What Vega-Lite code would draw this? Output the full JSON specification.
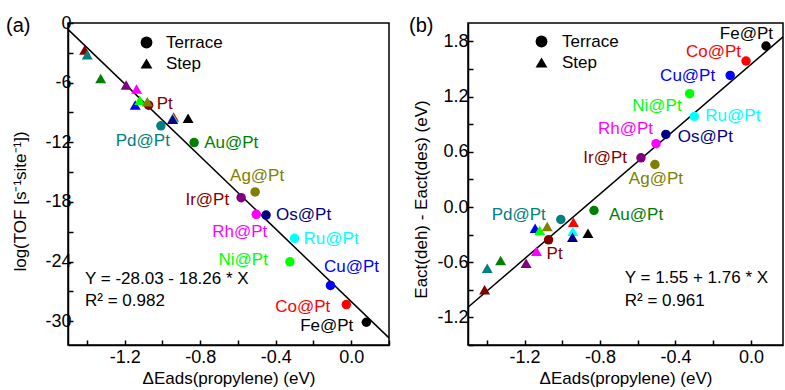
{
  "$schema": "https://vega.github.io/schema/vega-lite/v6.json",
  "padding": {"left": 5, "top": 13, "right": 0, "bottom": 0},
  "datasets": {
    "pts": [
      {"metal": "Pt", "label": "Pt", "site": "Terrace", "dE": -1.073, "logTOF": -8.27, "dEact": -0.357},
      {"metal": "Pd", "label": "Pd@Pt", "site": "Terrace", "dE": -1.008, "logTOF": -10.35, "dEact": -0.136},
      {"metal": "Au", "label": "Au@Pt", "site": "Terrace", "dE": -0.832, "logTOF": -12.03, "dEact": -0.038},
      {"metal": "Ag", "label": "Ag@Pt", "site": "Terrace", "dE": -0.509, "logTOF": -17.0, "dEact": 0.462},
      {"metal": "Ir", "label": "Ir@Pt", "site": "Terrace", "dE": -0.583, "logTOF": -17.58, "dEact": 0.535},
      {"metal": "Rh", "label": "Rh@Pt", "site": "Terrace", "dE": -0.503, "logTOF": -19.25, "dEact": 0.688},
      {"metal": "Os", "label": "Os@Pt", "site": "Terrace", "dE": -0.451, "logTOF": -19.33, "dEact": 0.789},
      {"metal": "Ru", "label": "Ru@Pt", "site": "Terrace", "dE": -0.3, "logTOF": -21.67, "dEact": 0.985},
      {"metal": "Ni", "label": "Ni@Pt", "site": "Terrace", "dE": -0.325, "logTOF": -24.03, "dEact": 1.232},
      {"metal": "Cu", "label": "Cu@Pt", "site": "Terrace", "dE": -0.11, "logTOF": -26.41, "dEact": 1.43},
      {"metal": "Co", "label": "Co@Pt", "site": "Terrace", "dE": -0.026, "logTOF": -28.33, "dEact": 1.587},
      {"metal": "Fe", "label": "Fe@Pt", "site": "Terrace", "dE": 0.08, "logTOF": -30.11, "dEact": 1.75},
      {"metal": "Pt", "label": "Pt", "site": "Step", "dE": -1.412, "logTOF": -2.72, "dEact": -0.9},
      {"metal": "Pd", "label": "Pd@Pt", "site": "Step", "dE": -1.398, "logTOF": -3.2, "dEact": -0.666},
      {"metal": "Au", "label": "Au@Pt", "site": "Step", "dE": -1.327, "logTOF": -5.58, "dEact": -0.582},
      {"metal": "Ir", "label": "Ir@Pt", "site": "Step", "dE": -1.192, "logTOF": -6.25, "dEact": -0.611},
      {"metal": "Rh", "label": "Rh@Pt", "site": "Step", "dE": -1.137, "logTOF": -6.65, "dEact": -0.481},
      {"metal": "Cu", "label": "Cu@Pt", "site": "Step", "dE": -1.144, "logTOF": -8.24, "dEact": -0.231},
      {"metal": "Ni", "label": "Ni@Pt", "site": "Step", "dE": -1.12, "logTOF": -7.77, "dEact": -0.256},
      {"metal": "Ag", "label": "Ag@Pt", "site": "Step", "dE": -1.08, "logTOF": -7.93, "dEact": -0.212},
      {"metal": "Co", "label": "Co@Pt", "site": "Step", "dE": -0.941, "logTOF": -9.45, "dEact": -0.165},
      {"metal": "Ru", "label": "Ru@Pt", "site": "Step", "dE": -0.944, "logTOF": -9.58, "dEact": -0.263},
      {"metal": "Os", "label": "Os@Pt", "site": "Step", "dE": -0.946, "logTOF": -9.68, "dEact": -0.329},
      {"metal": "Fe", "label": "Fe@Pt", "site": "Step", "dE": -0.864, "logTOF": -9.58, "dEact": -0.285}
    ],
    "fitA": [{"dE": -1.5, "logTOF": -0.64}, {"dE": 0.2, "logTOF": -31.68}],
    "fitB": [{"dE": -1.5, "dEact": -1.09}, {"dE": 0.17, "dEact": 1.849}],
    "zero": [{"dEact": 0}],
    "eqA": [{"dE": -1.41, "logTOF": -25.75, "text": "Y = -28.03 - 18.26 * X"}, {"dE": -1.41, "logTOF": -28.0, "text": "R² = 0.982"}],
    "eqB": [{"dE": -0.669, "dEact": -0.775, "text": "Y = 1.55 + 1.76 * X"}, {"dE": -0.669, "dEact": -1.017, "text": "R² = 0.961"}]
  },
  "spacing": 79,
  "bounds": "flush",
  "resolve": {"scale": {"shape": "independent"}, "legend": {"shape": "independent"}},
  "hconcat": [
    {
      "width": 321,
      "height": 322,
      "title": {"text": "(a)", "anchor": "start", "frame": "group", "dx": -62, "dy": 22, "offset": 0},
      "data": {"name": "pts"},
      "encoding": {
        "x": {"field": "dE", "type": "quantitative", "scale": {"domain": [-1.5, 0.2], "nice": false, "zero": false},
          "axis": {"title": "ΔEads(propylene) (eV)", "values": [-1.4, -1.2, -1.0, -0.8, -0.6, -0.4, -0.2, 0, 0.2],
            "labelExpr": "round(datum.value*10)%4==0 ? replace(format(datum.value,'.1f'),'−','-') : ''", "labelPadding": 8, "titleY": 25}},
        "y": {"field": "logTOF", "type": "quantitative", "scale": {"domain": [-32.4, 0], "nice": false, "zero": false},
          "axis": {"title": "log(TOF [s⁻¹site⁻¹])", "values": [0, -3, -6, -9, -12, -15, -18, -21, -24, -27, -30],
            "labelExpr": "datum.value%6==0 ? replace(format(datum.value,'d'),'−','-') : ''", "labelPadding": 2, "titleX": -39, "titleY": 178}}
      },
      "layer": [
        {"data": {"name": "fitA"}, "mark": {"type": "line", "color": "black", "strokeWidth": 1.5}, "encoding": {}},
        {"transform": [{"filter": "datum.site=='Terrace'"}], "mark": {"type": "point", "filled": true, "size": 90, "opacity": 1, "strokeWidth": 0},
          "encoding": {
            "color": {"field": "metal", "type": "nominal", "legend": null, "scale": {"domain": ["Pt", "Pd", "Au", "Ag", "Ir", "Rh", "Os", "Ru", "Ni", "Cu", "Co", "Fe"], "range": ["#800000", "#008080", "#008000", "#808000", "#800080", "#FF00FF", "#000080", "#00FFFF", "#00FF00", "#0000FF", "#FF0000", "#000000"]}},
            "shape": {"field": "site", "type": "nominal", "scale": {"domain": ["Terrace", "Step"], "range": ["circle", "triangle-up"]},
              "legend": {"title": null, "orient": "none", "legendX": 70, "legendY": 11, "padding": 0, "labelFontSize": 17, "labelFont": "Liberation Sans", "labelColor": "black", "symbolSize": 140, "labelOffset": 11, "rowPadding": 3, "symbolFillColor": "black", "symbolStrokeColor": "black", "symbolStrokeWidth": 0, "symbolOpacity": 1,
                "encode": {"symbols": {"update": {"fill": {"value": "black"}, "stroke": {"value": "black"}, "opacity": {"value": 1}, "size": {"value": 140}}}}}}
          }},
        {"transform": [{"filter": "datum.site=='Step'"}], "mark": {"type": "point", "filled": true, "size": 120, "opacity": 1, "strokeWidth": 0},
          "encoding": {"color": {"field": "metal", "type": "nominal", "legend": null}, "shape": {"field": "site", "type": "nominal"}}},
        {"transform": [{"filter": "datum.site=='Terrace' && datum.metal=='Pt'"}], "mark": {"type": "text", "align": "left", "dx": 8, "dy": -1}, "encoding": {"text": {"field": "label"}, "color": {"field": "metal", "type": "nominal", "legend": null}}},
        {"transform": [{"filter": "datum.site=='Terrace' && datum.metal=='Pd'"}], "mark": {"type": "text", "align": "right", "dx": 9, "dy": 15}, "encoding": {"text": {"field": "label"}, "color": {"field": "metal", "type": "nominal", "legend": null}}},
        {"transform": [{"filter": "datum.site=='Terrace' && datum.metal=='Au'"}], "mark": {"type": "text", "align": "left", "dx": 10, "dy": 0}, "encoding": {"text": {"field": "label"}, "color": {"field": "metal", "type": "nominal", "legend": null}}},
        {"transform": [{"filter": "datum.site=='Terrace' && datum.metal=='Ag'"}], "mark": {"type": "text", "align": "center", "dx": 2, "dy": -16}, "encoding": {"text": {"field": "label"}, "color": {"field": "metal", "type": "nominal", "legend": null}}},
        {"transform": [{"filter": "datum.site=='Terrace' && datum.metal=='Ir'"}], "mark": {"type": "text", "align": "right", "dx": -12, "dy": 2, "color": "#800000"}, "encoding": {"text": {"field": "label"}}},
        {"transform": [{"filter": "datum.site=='Terrace' && datum.metal=='Rh'"}], "mark": {"type": "text", "align": "right", "dx": 11, "dy": 18}, "encoding": {"text": {"field": "label"}, "color": {"field": "metal", "type": "nominal", "legend": null}}},
        {"transform": [{"filter": "datum.site=='Terrace' && datum.metal=='Os'"}], "mark": {"type": "text", "align": "left", "dx": 10, "dy": 0}, "encoding": {"text": {"field": "label"}, "color": {"field": "metal", "type": "nominal", "legend": null}}},
        {"transform": [{"filter": "datum.site=='Terrace' && datum.metal=='Ru'"}], "mark": {"type": "text", "align": "left", "dx": 9, "dy": 1}, "encoding": {"text": {"field": "label"}, "color": {"field": "metal", "type": "nominal", "legend": null}}},
        {"transform": [{"filter": "datum.site=='Terrace' && datum.metal=='Ni'"}], "mark": {"type": "text", "align": "right", "dx": -22, "dy": -2}, "encoding": {"text": {"field": "label"}, "color": {"field": "metal", "type": "nominal", "legend": null}}},
        {"transform": [{"filter": "datum.site=='Terrace' && datum.metal=='Cu'"}], "mark": {"type": "text", "align": "center", "dx": 21, "dy": -18}, "encoding": {"text": {"field": "label"}, "color": {"field": "metal", "type": "nominal", "legend": null}}},
        {"transform": [{"filter": "datum.site=='Terrace' && datum.metal=='Co'"}], "mark": {"type": "text", "align": "right", "dx": -16, "dy": 2}, "encoding": {"text": {"field": "label"}, "color": {"field": "metal", "type": "nominal", "legend": null}}},
        {"transform": [{"filter": "datum.site=='Terrace' && datum.metal=='Fe'"}], "mark": {"type": "text", "align": "right", "dx": -13, "dy": 4}, "encoding": {"text": {"field": "label"}, "color": {"field": "metal", "type": "nominal", "legend": null}}},
        {"data": {"name": "eqA"}, "mark": {"type": "text", "align": "left", "color": "black"}, "encoding": {"text": {"field": "text"}}}
      ]
    },
    {
      "width": 315,
      "height": 322,
      "title": {"text": "(b)", "anchor": "start", "frame": "group", "dx": -59, "dy": 13, "offset": 0},
      "data": {"name": "pts"},
      "encoding": {
        "x": {"field": "dE", "type": "quantitative", "scale": {"domain": [-1.5, 0.17], "nice": false, "zero": false},
          "axis": {"title": "ΔEads(propylene) (eV)", "values": [-1.4, -1.2, -1.0, -0.8, -0.6, -0.4, -0.2, 0],
            "labelExpr": "round(datum.value*10)%4==0 ? replace(format(datum.value,'.1f'),'−','-') : ''", "labelPadding": 8, "titleY": 25}},
        "y": {"field": "dEact", "type": "quantitative", "scale": {"domain": [-1.5, 2.0], "nice": false, "zero": false},
          "axis": {"title": "Eact(deh) - Eact(des) (eV)", "values": [-1.5, -1.2, -0.9, -0.6, -0.3, 0, 0.3, 0.6, 0.9, 1.2, 1.5, 1.8],
            "labelExpr": "round(datum.value*10)%6==0 ? replace(format(datum.value,'.1f'),'−','-') : ''", "labelPadding": 5, "titleX": -38, "titleY": 176}}
      },
      "layer": [
        {"data": {"name": "zero"}, "mark": {"type": "rule", "color": "black", "strokeWidth": 1.5, "strokeDash": [8, 5]}, "encoding": {"x": {"datum": -1.5}, "x2": {"datum": 0.17}}},
        {"data": {"name": "fitB"}, "mark": {"type": "line", "color": "black", "strokeWidth": 1.5}, "encoding": {}},
        {"transform": [{"filter": "datum.site=='Terrace'"}], "mark": {"type": "point", "filled": true, "size": 90, "opacity": 1, "strokeWidth": 0},
          "encoding": {
            "color": {"field": "metal", "type": "nominal", "legend": null, "scale": {"domain": ["Pt", "Pd", "Au", "Ag", "Ir", "Rh", "Os", "Ru", "Ni", "Cu", "Co", "Fe"], "range": ["#800000", "#008080", "#008000", "#808000", "#800080", "#FF00FF", "#000080", "#00FFFF", "#00FF00", "#0000FF", "#FF0000", "#000000"]}},
            "shape": {"field": "site", "type": "nominal", "scale": {"domain": ["Terrace", "Step"], "range": ["circle", "triangle-up"]},
              "legend": {"title": null, "orient": "none", "legendX": 65, "legendY": 10, "padding": 0, "labelFontSize": 17, "labelFont": "Liberation Sans", "labelColor": "black", "symbolSize": 140, "labelOffset": 12, "rowPadding": 3, "symbolFillColor": "black", "symbolStrokeColor": "black", "symbolStrokeWidth": 0, "symbolOpacity": 1,
                "encode": {"symbols": {"update": {"fill": {"value": "black"}, "stroke": {"value": "black"}, "opacity": {"value": 1}, "size": {"value": 140}}}}}}
          }},
        {"transform": [{"filter": "datum.site=='Step'"}], "mark": {"type": "point", "filled": true, "size": 120, "opacity": 1, "strokeWidth": 0},
          "encoding": {"color": {"field": "metal", "type": "nominal", "legend": null}, "shape": {"field": "site", "type": "nominal"}}},
        {"transform": [{"filter": "datum.site=='Terrace' && datum.metal=='Fe'"}], "mark": {"type": "text", "align": "right", "dx": 7, "dy": -12}, "encoding": {"text": {"field": "label"}, "color": {"field": "metal", "type": "nominal", "legend": null}}},
        {"transform": [{"filter": "datum.site=='Terrace' && datum.metal=='Co'"}], "mark": {"type": "text", "align": "right", "dx": -5, "dy": -9}, "encoding": {"text": {"field": "label"}, "color": {"field": "metal", "type": "nominal", "legend": null}}},
        {"transform": [{"filter": "datum.site=='Terrace' && datum.metal=='Cu'"}], "mark": {"type": "text", "align": "right", "dx": -15, "dy": 1}, "encoding": {"text": {"field": "label"}, "color": {"field": "metal", "type": "nominal", "legend": null}}},
        {"transform": [{"filter": "datum.site=='Terrace' && datum.metal=='Ni'"}], "mark": {"type": "text", "align": "right", "dx": -8, "dy": 12}, "encoding": {"text": {"field": "label"}, "color": {"field": "metal", "type": "nominal", "legend": null}}},
        {"transform": [{"filter": "datum.site=='Terrace' && datum.metal=='Ru'"}], "mark": {"type": "text", "align": "left", "dx": 11, "dy": 0}, "encoding": {"text": {"field": "label"}, "color": {"field": "metal", "type": "nominal", "legend": null}}},
        {"transform": [{"filter": "datum.site=='Terrace' && datum.metal=='Os'"}], "mark": {"type": "text", "align": "left", "dx": 12, "dy": 3}, "encoding": {"text": {"field": "label"}, "color": {"field": "metal", "type": "nominal", "legend": null}}},
        {"transform": [{"filter": "datum.site=='Terrace' && datum.metal=='Rh'"}], "mark": {"type": "text", "align": "right", "dx": -3, "dy": -15}, "encoding": {"text": {"field": "label"}, "color": {"field": "metal", "type": "nominal", "legend": null}}},
        {"transform": [{"filter": "datum.site=='Terrace' && datum.metal=='Ir'"}], "mark": {"type": "text", "align": "right", "dx": -14, "dy": 0, "color": "#800000"}, "encoding": {"text": {"field": "label"}}},
        {"transform": [{"filter": "datum.site=='Terrace' && datum.metal=='Ag'"}], "mark": {"type": "text", "align": "center", "dx": 1, "dy": 15}, "encoding": {"text": {"field": "label"}, "color": {"field": "metal", "type": "nominal", "legend": null}}},
        {"transform": [{"filter": "datum.site=='Terrace' && datum.metal=='Au'"}], "mark": {"type": "text", "align": "left", "dx": 15, "dy": 5}, "encoding": {"text": {"field": "label"}, "color": {"field": "metal", "type": "nominal", "legend": null}}},
        {"transform": [{"filter": "datum.site=='Terrace' && datum.metal=='Pd'"}], "mark": {"type": "text", "align": "right", "dx": -15, "dy": -5}, "encoding": {"text": {"field": "label"}, "color": {"field": "metal", "type": "nominal", "legend": null}}},
        {"transform": [{"filter": "datum.site=='Terrace' && datum.metal=='Pt'"}], "mark": {"type": "text", "align": "left", "dx": -2, "dy": 14}, "encoding": {"text": {"field": "label"}, "color": {"field": "metal", "type": "nominal", "legend": null}}},
        {"data": {"name": "eqB"}, "mark": {"type": "text", "align": "left", "color": "black"}, "encoding": {"text": {"field": "text"}}}
      ]
    }
  ],
  "config": {
    "font": "Liberation Sans",
    "view": {"stroke": "black", "strokeWidth": 1.5},
    "axis": {"grid": false, "domainColor": "black", "domainWidth": 1.5, "tickColor": "black", "tickWidth": 1.5, "tickSize": -5,
      "labelFont": "Liberation Sans", "labelFontSize": 18, "labelColor": "black", "titleFont": "Liberation Sans", "titleFontSize": 17,
      "titleFontWeight": "normal", "titleColor": "black", "labelOverlap": false, "labelFlush": false},
    "text": {"font": "Liberation Sans", "fontSize": 17, "baseline": "middle"},
    "title": {"font": "Liberation Sans", "fontSize": 20, "fontWeight": "normal", "color": "black"}
  }
}
